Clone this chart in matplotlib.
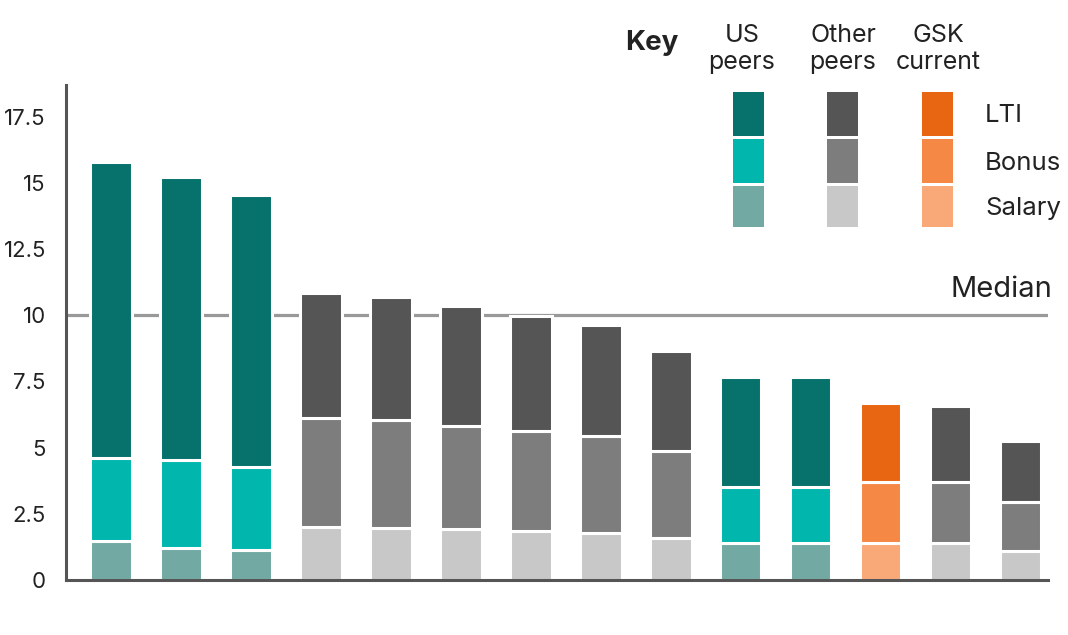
import matplotlib
matplotlib.use('Agg')
import matplotlib.pyplot as plt
from matplotlib.patches import Rectangle
import numpy as np

# %% Data
groups = ['US', 'US', 'US', 'Other', 'Other', 'Other', 'Other', 'Other', 'Other',
          'US', 'US', 'GSK', 'Other', 'Other']
salary = [1.49, 1.21, 1.13, 2.00, 1.98, 1.92, 1.85, 1.77, 1.58, 1.40, 1.40, 1.40, 1.38, 1.09]
bonus = [3.11, 3.32, 3.13, 4.11, 4.06, 3.89, 3.77, 3.66, 3.29, 2.11, 2.11, 2.30, 2.32, 1.85]
lti = [11.19, 10.70, 10.29, 4.74, 4.66, 4.55, 4.37, 4.22, 3.80, 4.17, 4.17, 3.00, 2.89, 2.33]
median = 10
yticks = [0, 2.5, 5, 7.5, 10, 12.5, 15, 17.5]
ytick_labels = ['0', '2.5', '5', '7.5', '10', '12.5', '15', '17.5']

key_groups = ['US', 'Other', 'GSK']
key_titles = ['US\npeers', 'Other\npeers', 'GSK\ncurrent']
key_rows = ['LTI', 'Bonus', 'Salary']

colors = {
    'US': {'LTI': '#07716b', 'Bonus': '#00b6ad', 'Salary': '#72a9a3'},
    'Other': {'LTI': '#555555', 'Bonus': '#7d7d7d', 'Salary': '#c8c8c8'},
    'GSK': {'LTI': '#e86612', 'Bonus': '#f58845', 'Salary': '#f9a877'},
}

# %% Plot
plt.rcParams['font.family'] = ['Inter', 'DejaVu Sans']
W, H = 1068, 635
fig = plt.figure(figsize=(W / 100, H / 100), dpi=100)
ax = fig.add_axes([66 / W, 55 / H, (1048 - 66) / W, (580 - 85) / H])

x = np.arange(len(groups))
sal = np.array(salary)
bon = np.array(bonus)
lt = np.array(lti)
width = 0.586
ew = 2.2
ax.bar(x, sal, width, color=[colors[g]['Salary'] for g in groups],
       edgecolor='white', linewidth=ew, zorder=3)
ax.bar(x, bon, width, bottom=sal, color=[colors[g]['Bonus'] for g in groups],
       edgecolor='white', linewidth=ew, zorder=3)
ax.bar(x, lt, width, bottom=sal + bon, color=[colors[g]['LTI'] for g in groups],
       edgecolor='white', linewidth=ew, zorder=3)

ax.axhline(median, color='#999999', lw=2.3, zorder=1)
ax.text(1.004, median + 0.68, 'Median', transform=ax.get_yaxis_transform(),
        ha='right', va='baseline', fontsize=21, color='#222222')

ax.set_xlim(-0.643, 13.386)
ax.set_ylim(0, 18.7)
ax.set_xticks([])
ax.set_yticks(yticks)
ax.set_yticklabels(ytick_labels, fontsize=16, color='#222222')
ax.tick_params(axis='y', length=0, pad=14.5)
for s in ['top', 'right']:
    ax.spines[s].set_visible(False)
for s in ['left', 'bottom']:
    ax.spines[s].set_color('#555555')
    ax.spines[s].set_linewidth(2.2)
    ax.spines[s].set_zorder(5)

# %% Key
def fx(px):
    return px / W

def fy(py):
    return 1 - py / H

fig.text(fx(652), fy(43), 'Key', ha='center', va='center', fontsize=20,
         fontweight='bold', color='#222222')
col_x = [733, 827, 922]
title_x = [742, 843, 938]
row_y = [(92, 136), (139, 183), (186, 227)]
for gi, g in enumerate(key_groups):
    fig.text(fx(title_x[gi]), fy(49), key_titles[gi], ha='center', va='center',
             fontsize=18, color='#222222', linespacing=1.2)
    for ri, r in enumerate(key_rows):
        y0, y1 = row_y[ri]
        fig.add_artist(Rectangle((fx(col_x[gi]), fy(y1)), fx(31), (y1 - y0) / H,
                                 transform=fig.transFigure,
                                 facecolor=colors[g][r], edgecolor='none'))
for ri, r in enumerate(key_rows):
    y0, y1 = row_y[ri]
    fig.text(fx(985), fy((y0 + y1) / 2 + 2), r, ha='left', va='center',
             fontsize=18.5, color='#222222')

plt.savefig('out.png', dpi=100)
